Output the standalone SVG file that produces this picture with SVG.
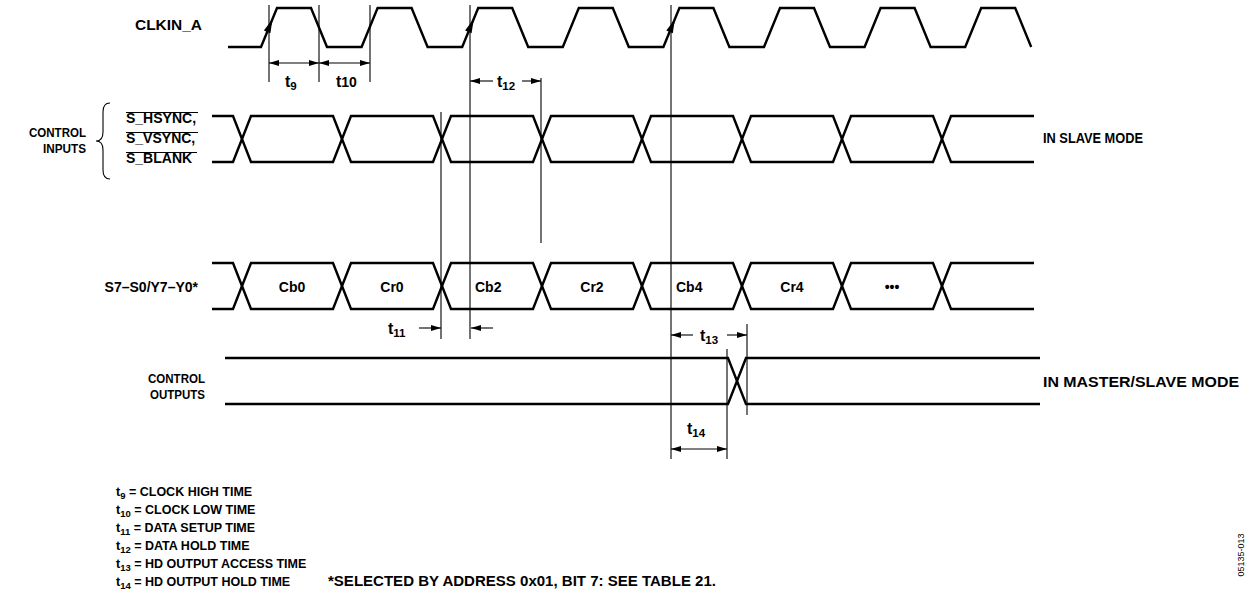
<svg xmlns="http://www.w3.org/2000/svg" width="1252" height="589" viewBox="0 0 1252 589">
<defs>
<marker id="ah" viewBox="0 0 10 6" refX="10" refY="3" markerWidth="10" markerHeight="6.5" markerUnits="userSpaceOnUse" orient="auto-start-reverse"><path d="M0,0 L10,3 L0,6 Z" fill="#000"/></marker>
</defs>
<style>
.wave{fill:none;stroke:#000;stroke-width:2.4;stroke-linejoin:miter}
.thin{stroke:#000;stroke-width:1.1;fill:none}
.dim{stroke:#000;stroke-width:1.1;fill:none;marker-end:url(#ah)}
.dim2{stroke:#000;stroke-width:1.1;fill:none;marker-start:url(#ah);marker-end:url(#ah)}
.lbl{font-family:"Liberation Sans",Arial,sans-serif;font-weight:bold;font-size:14px;fill:#000}
.rl{font-family:"Liberation Sans",Arial,sans-serif;font-weight:bold;font-size:13px;fill:#000}
.leg{font-family:"Liberation Sans",Arial,sans-serif;font-weight:bold;font-size:12.5px;fill:#000}
.tl{font-family:"Liberation Sans",Arial,sans-serif;font-weight:bold;font-size:16px;fill:#000}
.sub{font-size:11.5px}
.lsub{font-size:9.5px}
.code{font-family:"Liberation Sans",Arial,sans-serif;font-size:9px;fill:#000}
</style>
<rect width="1252" height="589" fill="#fff"/>

<g id="clkin_a">
<text class="lbl" x="202" y="30" text-anchor="end" textLength="67" lengthAdjust="spacingAndGlyphs">CLKIN_A</text>
<path class="wave" d="M228,47 L261,47 L277,8 L311,8 L327,47 L361.6,47 L377.6,8 L411.6,8 L427.6,47 L462.2,47 L478.2,8 L512.2,8 L528.2,47 L562.8,47 L578.8,8 L612.8,8 L628.8,47 L663.4,47 L679.4,8 L713.4,8 L729.4,47 L764,47 L780,8 L814,8 L830,47 L864.6,47 L880.6,8 L914.6,8 L930.6,47 L965.2,47 L981.2,8 L1015.2,8 L1031.2,47"/>
<polygon points="272.5,19 270.4,33.3 263.9,30.6" fill="#000"/>
<polygon points="473.7,19 471.6,33.3 465.1,30.6" fill="#000"/>
<polygon points="674.9,19 672.8,33.3 666.3,30.6" fill="#000"/>
</g>

<g id="control_inputs">
<text class="rl" x="86" y="137" text-anchor="end" textLength="57" lengthAdjust="spacingAndGlyphs">CONTROL</text>
<text class="rl" x="86" y="153" text-anchor="end" textLength="43" lengthAdjust="spacingAndGlyphs">INPUTS</text>
<path class="thin" d="M110,103 Q103,103 103,112 L103,132 Q103,141 96,141 Q103,141 103,150 L103,170 Q103,179 110,179"/>
<text class="lbl" x="126" y="123">S_HSYNC,</text>
<text class="lbl" x="126" y="143">S_VSYNC,</text>
<text class="lbl" x="126" y="163">S_BLANK</text>
<line class="thin" x1="126" y1="112.5" x2="198" y2="112.5"/>
<line class="thin" x1="126" y1="132.5" x2="198" y2="132.5"/>
<line class="thin" x1="126" y1="152.5" x2="197" y2="152.5"/>
<path class="wave" d="M212,116 L233,116 L251,162 L333,162 L351,116 L433,116 L451,162 L533,162 L551,116 L633,116 L651,162 L733,162 L751,116 L833,116 L851,162 L933,162 L951,116 L1034,116"/>
<path class="wave" d="M212,162 L233,162 L251,116 L333,116 L351,162 L433,162 L451,116 L533,116 L551,162 L633,162 L651,116 L733,116 L751,162 L833,162 L851,116 L933,116 L951,162 L1034,162"/>
<text class="lbl" x="1043" y="143" textLength="100" lengthAdjust="spacingAndGlyphs">IN SLAVE MODE</text>
</g>

<g id="data_bus">
<text class="lbl" x="198" y="292" text-anchor="end">S7–S0/Y7–Y0*</text>
<path class="wave" d="M212,263 L233,263 L251,309 L333,309 L351,263 L433,263 L451,309 L533,309 L551,263 L633,263 L651,309 L733,309 L751,263 L833,263 L851,309 L933,309 L951,263 L1034,263"/>
<path class="wave" d="M212,309 L233,309 L251,263 L333,263 L351,309 L433,309 L451,263 L533,263 L551,309 L633,309 L651,263 L733,263 L751,309 L833,309 L851,263 L933,263 L951,309 L1034,309"/>
<text class="lbl" x="292" y="292" text-anchor="middle">Cb0</text>
<text class="lbl" x="392" y="292" text-anchor="middle">Cr0</text>
<text class="lbl" x="475" y="292">Cb2</text>
<text class="lbl" x="592" y="292" text-anchor="middle">Cr2</text>
<text class="lbl" x="676" y="292">Cb4</text>
<text class="lbl" x="792" y="292" text-anchor="middle">Cr4</text>
<text class="lbl" x="892" y="292" text-anchor="middle">•••</text>
</g>

<g id="control_outputs">
<text class="rl" x="205" y="383" text-anchor="end" textLength="57" lengthAdjust="spacingAndGlyphs">CONTROL</text>
<text class="rl" x="205" y="399" text-anchor="end" textLength="55" lengthAdjust="spacingAndGlyphs">OUTPUTS</text>
<path class="wave" d="M225,358 L728,358 L746,404 L1040,404"/>
<path class="wave" d="M225,404 L728,404 L746,358 L1040,358"/>
<text class="lbl" x="1043" y="387" textLength="196" lengthAdjust="spacingAndGlyphs">IN MASTER/SLAVE MODE</text>
</g>

<g id="connectors">
<line class="thin" x1="269" y1="5" x2="269" y2="82"/>
<line class="thin" x1="319" y1="5" x2="319" y2="82"/>
<line class="thin" x1="370" y1="5" x2="370" y2="82"/>
<line class="thin" x1="470" y1="5" x2="470" y2="339"/>
<line class="thin" x1="541" y1="78" x2="541" y2="243"/>
<line class="thin" x1="441" y1="112" x2="441" y2="339"/>
<line class="thin" x1="671" y1="5" x2="671" y2="459"/>
<line class="thin" x1="747" y1="324" x2="747" y2="415"/>
<line class="thin" x1="727" y1="349" x2="727" y2="459"/>
<line class="dim2" x1="269" y1="63" x2="319" y2="63"/>
<line class="dim2" x1="319" y1="63" x2="370" y2="63"/>
<line class="dim" x1="493" y1="81" x2="470" y2="81"/>
<line class="dim" x1="522" y1="81" x2="541" y2="81"/>
<line class="dim" x1="419" y1="328" x2="441" y2="328"/>
<line class="dim" x1="493" y1="328" x2="471" y2="328"/>
<line class="dim" x1="693" y1="335" x2="671" y2="335"/>
<line class="dim" x1="727" y1="335" x2="747" y2="335"/>
<line class="dim2" x1="671" y1="449" x2="727" y2="449"/>
<text class="tl" x="285" y="87">t<tspan class="sub" dy="3">9</tspan></text>
<text class="tl" x="336" y="87">t<tspan font-size="14">10</tspan></text>
<text class="tl" x="497" y="87">t<tspan class="sub" dy="3">12</tspan></text>
<text class="tl" x="388" y="334">t<tspan class="sub" dy="3">11</tspan></text>
<text class="tl" x="700" y="341">t<tspan class="sub" dy="3">13</tspan></text>
<text class="tl" x="687" y="434">t<tspan class="sub" dy="3">14</tspan></text>
</g>

<g id="legend">
<text class="leg" x="116" y="496">t<tspan class="lsub" dy="2.5">9</tspan><tspan dy="-2.5"> = CLOCK HIGH TIME</tspan></text>
<text class="leg" x="116" y="514">t<tspan class="lsub" dy="2.5">10</tspan><tspan dy="-2.5"> = CLOCK LOW TIME</tspan></text>
<text class="leg" x="116" y="532">t<tspan class="lsub" dy="2.5">11</tspan><tspan dy="-2.5"> = DATA SETUP TIME</tspan></text>
<text class="leg" x="116" y="550">t<tspan class="lsub" dy="2.5">12</tspan><tspan dy="-2.5"> = DATA HOLD TIME</tspan></text>
<text class="leg" x="116" y="568">t<tspan class="lsub" dy="2.5">13</tspan><tspan dy="-2.5"> = HD OUTPUT ACCESS TIME</tspan></text>
<text class="leg" x="116" y="586">t<tspan class="lsub" dy="2.5">14</tspan><tspan dy="-2.5"> = HD OUTPUT HOLD TIME</tspan></text>
<text class="lbl" x="328" y="586" textLength="388" lengthAdjust="spacingAndGlyphs">*SELECTED BY ADDRESS 0x01, BIT 7: SEE TABLE 21.</text>
<text class="code" transform="translate(1244,555) rotate(-90)" text-anchor="middle">05135-013</text>
</g>
</svg>
